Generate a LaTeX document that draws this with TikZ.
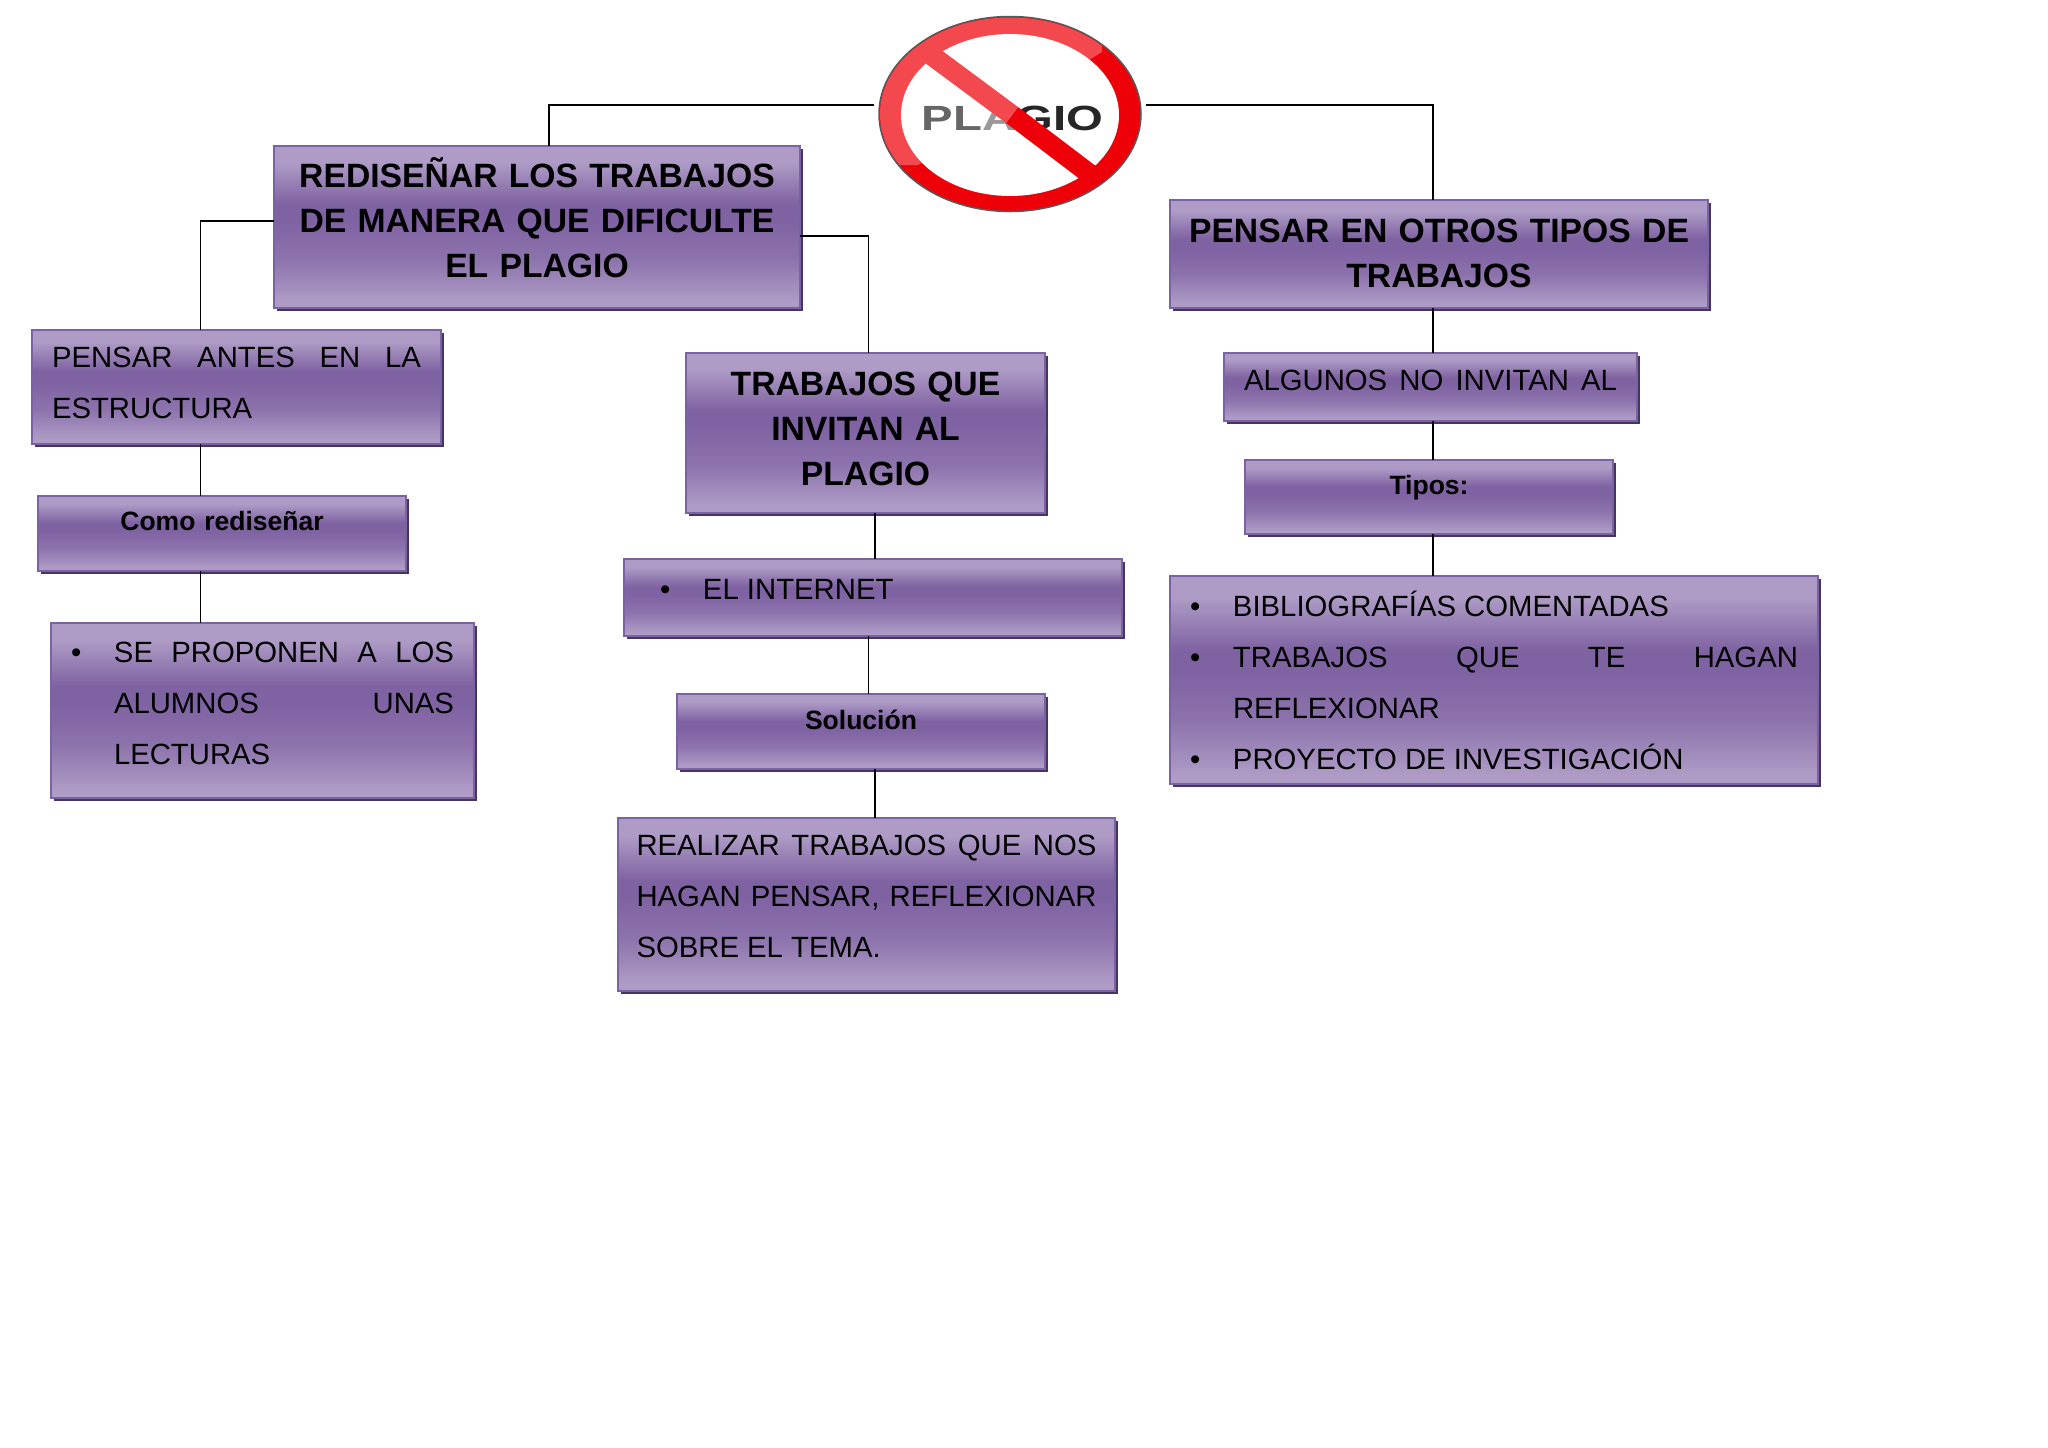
\documentclass[tikz,border=0pt]{standalone}
\usepackage{fontspec}
\setmainfont{Liberation Sans}
\usetikzlibrary{shadows}
\usetikzlibrary{shapes.geometric}

\definecolor{boxlight}{HTML}{AE9CC6}
\definecolor{boxdark}{HTML}{7F62A2}
\definecolor{boxedge}{HTML}{7A62A4}
\definecolor{boxshadow}{HTML}{46365F}
\definecolor{ringlight}{HTML}{F2484E}
\definecolor{ringred}{HTML}{EE0008}

\pgfdeclareverticalshading{boxshade}{100bp}{
    color(0bp)=(boxlight); color(27bp)=(boxlight); color(40bp)=(boxdark!70!boxlight);
    color(52bp)=(boxdark); color(57bp)=(boxdark); color(70bp)=(boxlight); color(100bp)=(boxlight)}

\newcommand{\boxitem}[1]{\noindent\hangindent=43pt\hangafter=1\hbox to 43pt{\textbullet\hss}#1\par}

\begin{document}
\begin{tikzpicture}[
            x=1pt, y=-1pt,
            purplebox/.style={shade, shading=boxshade, draw=boxedge, line width=1.5pt, anchor=north west,
                inner xsep=20pt, inner ysep=0pt, outer sep=0pt,
                general shadow={fill=boxshadow, shadow xshift=3pt, shadow yshift=-3pt}},
            titlebox/.style={purplebox, inner xsep=10pt, align=center, font=\fontsize{33.7}{45}\selectfont\bfseries},
            textbox/.style={purplebox, align=justify, font=\fontsize{29.3}{51}\selectfont},
            smallbox/.style={purplebox, align=center, font=\fontsize{26.5}{32}\selectfont\bfseries},
            connector/.style={color=black, line width=1.5pt}
        ]
            % page
            \useasboundingbox (0, 0) rectangle (2048, 1448);
            \fill[white] (0, 0) rectangle (2048, 1448);

            % logo
            \node[ellipse, draw=black!65, fill=ringred, line width=1.5pt, minimum width=262pt, minimum height=195pt, inner sep=0pt, outer sep=0pt] (logo) at (1010, 114) {};
            \begin{scope}
                \clip (918, 165) -- (1102, 52) -- (1102, 0) -- (860, 0) -- (860, 165) -- cycle;
                \fill[ringlight] (logo.center) ellipse [x radius=130, y radius=96.5];
            \end{scope}
            \fill[white] (1010, 115) ellipse [x radius=109, y radius=81];
            \node[font=\fontsize{35}{35}\selectfont\bfseries, inner sep=0pt] (logotext) at (1012.5, 118) {\scalebox{1.35}[1]{\textcolor{black!60}{PL}\textcolor{black!40}{A}\textcolor{black!85}{GIO}}};
            \draw[ringred, line width=20pt] (1012, 115) -- (1095, 178);
            \draw[ringlight, line width=20pt] (925, 50.5) -- (1012, 115);

            % left branch
            \node[titlebox, text width=506pt, minimum height=162pt] (redisenar) at (274, 146) {REDISEÑAR LOS TRABAJOS\\DE MANERA QUE DIFICULTE\\EL PLAGIO\par\kern18pt};
            \node[textbox, text width=369pt, minimum height=114pt] (antes) at (32, 330) {PENSAR ANTES EN LA\linebreak ESTRUCTURA\par\kern8pt};
            \node[smallbox, text width=328pt, minimum height=75pt] (como) at (38, 496) {Como rediseñar\par\kern24pt};
            \node[textbox, text width=383pt, minimum height=175pt] (proponen) at (51, 623) {\boxitem{SE PROPONEN A LOS\linebreak ALUMNOS UNAS\linebreak LECTURAS}\kern15pt};

            % middle branch
            \node[titlebox, text width=339pt, minimum height=160pt] (invitan) at (686, 353) {TRABAJOS QUE\\INVITAN AL\\PLAGIO\par\kern8pt};
            \node[textbox, text width=458pt, minimum height=77pt] (internet) at (624, 559) {\hspace*{16pt}\hbox to 43pt{\textbullet\hss}EL INTERNET\par\kern17pt};
            \node[smallbox, text width=328pt, minimum height=75pt] (solucion) at (677, 694) {Solución\par\kern24pt};
            \node[textbox, inner xsep=18.5pt, text width=460pt, minimum height=173pt] (realizar) at (618, 818) {REALIZAR TRABAJOS QUE NOS\linebreak HAGAN PENSAR, REFLEXIONAR\linebreak SOBRE EL TEMA.\par\kern17pt};

            % right branch
            \node[titlebox, text width=518pt, minimum height=108pt] (otros) at (1170, 200) {PENSAR EN OTROS TIPOS DE\\TRABAJOS\par\kern1pt};
            \node[textbox, text width=373pt, minimum height=68pt] (algunos) at (1224, 353) {\hbox to \linewidth{ALGUNOS\hfill NO\hfill INVITAN\hfill AL}\par\kern13pt};
            \node[smallbox, text width=328pt, minimum height=74pt] (tipos) at (1245, 460) {Tipos:\par\kern18pt};
            \node[textbox, text width=608pt, minimum height=208pt] (lista) at (1170, 576) {\boxitem{BIBLIOGRAFÍAS COMENTADAS}\boxitem{TRABAJOS QUE TE HAGAN\linebreak REFLEXIONAR}\boxitem{PROYECTO DE INVESTIGACIÓN}};

            % connectors
            \draw[connector] ([xshift=-5pt, yshift=9pt]logo.west) -| ([xshift=12pt]redisenar.north);
            \draw[connector] ([xshift=5pt, yshift=9pt]logo.east) -| ([xshift=-6pt]otros.north);
            \draw[connector] ([yshift=6pt]redisenar.west) -| ([xshift=-36pt]antes.north);
            \draw[connector] ([yshift=-9pt]redisenar.east) -| ([xshift=3pt]invitan.north);
            \draw[connector] ([xshift=-36pt]antes.south) -- ([xshift=-21.5pt]como.north);
            \draw[connector] ([xshift=-21.5pt]como.south) -- ([xshift=-62pt]proponen.north);
            \draw[connector] ([xshift=9.5pt]invitan.south) -- ([xshift=2pt]internet.north);
            \draw[connector] ([xshift=-4.5pt]internet.south) -- ([xshift=7.5pt]solucion.north);
            \draw[connector] ([xshift=14pt]solucion.south) -- ([xshift=8.5pt]realizar.north);
            \draw[connector] ([xshift=-6pt]otros.south) -- ([xshift=2.5pt]algunos.north);
            \draw[connector] ([xshift=2.5pt]algunos.south) -- ([xshift=4pt]tipos.north);
            \draw[connector] ([xshift=4pt]tipos.south) -- ([xshift=-61pt]lista.north);
        \end{tikzpicture}
\end{document}
